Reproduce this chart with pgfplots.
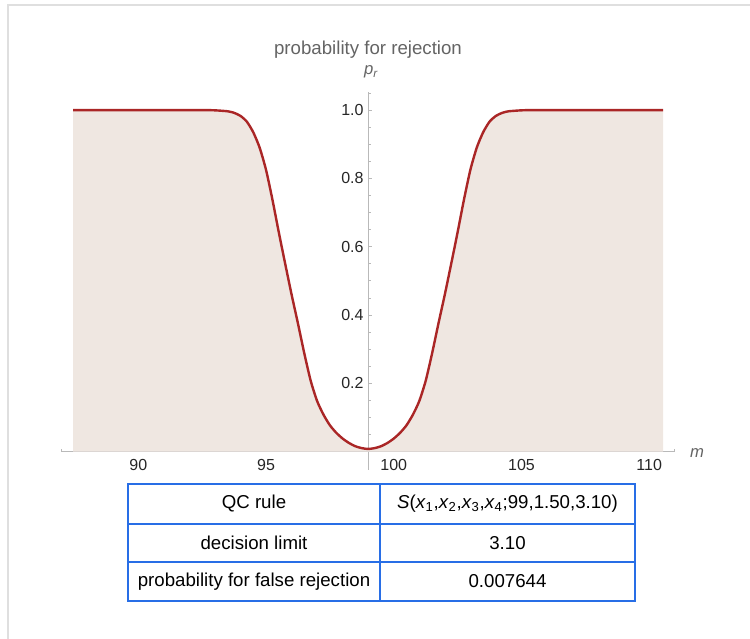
\documentclass[border=0pt]{standalone}
\usepackage{fontspec}
\setmainfont{Liberation Sans}
\usepackage{pgfplots}
\usepackage{pgfplotstable}
\pgfplotsset{compat=1.18}

\definecolor{curve}{RGB}{170,38,38}
\definecolor{under}{RGB}{239,231,225}
\definecolor{axgray}{RGB}{185,185,185}
\definecolor{tblue}{RGB}{40,110,230}
\definecolor{ttl}{RGB}{100,100,100}

% rejection probability p_r against the mean m
\pgfplotstableread{
m p
87.45 1.0
90.0 1.0
92.5 1.0
93.0 0.9993
93.5 0.9965
93.75 0.9920
94.0 0.9830
94.25 0.9660
94.5 0.9350
94.75 0.8900
95.0 0.8250
95.25 0.7380
95.5 0.6420
95.75 0.5500
96.0 0.4600
96.25 0.3750
96.5 0.2870
96.75 0.2070
97.0 0.1480
97.25 0.1080
97.5 0.0770
97.75 0.0550
98.0 0.0380
98.25 0.0250
98.5 0.0155
98.75 0.0100
99.0 0.0076
99.25 0.0100
99.5 0.0155
99.75 0.0250
100.0 0.0380
100.25 0.0550
100.5 0.0770
100.75 0.1080
101.0 0.1480
101.25 0.2070
101.5 0.2870
101.75 0.3750
102.0 0.4600
102.25 0.5500
102.5 0.6420
102.75 0.7380
103.0 0.8250
103.25 0.8900
103.5 0.9350
103.75 0.9660
104.0 0.9830
104.25 0.9920
104.5 0.9965
105.0 0.9993
105.5 1.0
108.0 1.0
110.55 1.0
}\prdata

\begin{document}
\begin{tikzpicture}[x=0.75pt,y=0.75pt]
\useasboundingbox (0,0) rectangle (750,639);
\draw[gray!25, line width=0.8pt] (8,0) -- (8,634) -- (750,634);

\begin{axis}[
  at={(46.275pt,126.75pt)}, anchor=south west,
  scale only axis, width=459.75pt, height=283.5pt,
  xmin=87, xmax=111, ymin=-0.054, ymax=1.053,
  axis x line=middle, axis y line=left,
  axis y line shift=-229.9pt,
  axis line style={axgray, line width=0.6pt, -},
  xtick={90,95,...,110}, minor xtick={87,...,111},
  ytick={0.2,0.4,0.6,0.8,1.0},
  minor ytick={0.05,0.1,...,1.05},
  tick align=inside,
  major tick length=3pt, minor tick length=2pt,
  tick style={axgray, line width=0.5pt},
  yticklabel style={/pgf/number format/fixed, /pgf/number format/fixed zerofill, /pgf/number format/precision=1},
  /pgf/number format/assume math mode=true,
  ticklabel style={font=\fontsize{12}{14}\selectfont, text=black!85},
  xticklabel style={yshift=-2pt},
  clip=false,
]
\addplot[fill=under, draw=none, smooth, tension=0.4] table[x=m, y=p] {\prdata} \closedcycle;
\addplot[curve, line width=1.8pt, line join=round, smooth, tension=0.4] table[x=m, y=p] {\prdata};
\end{axis}

\node[text=ttl, font=\fontsize{14}{16}\selectfont] at (368,589) {probability for rejection};
\node[text=ttl, font=\fontsize{12.5}{14}\selectfont\itshape] at (371,567) {p\textsubscript{r}};
\node[text=ttl, font=\fontsize{12.5}{14}\selectfont\itshape] at (697,186) {m};

% summary table
\begin{scope}[font=\fontsize{14}{16}\selectfont]
\draw[tblue, line width=1.1pt] (128,38) rectangle (635,155);
\draw[tblue, line width=1.1pt] (128,115) -- (635,115) (128,77) -- (635,77) (380,38) -- (380,155);
\node at (254,135) {QC rule};
\node at (507.5,135) {\textit{S}(\textit{x}\textsubscript{1},\textit{x}\textsubscript{2},\textit{x}\textsubscript{3},\textit{x}\textsubscript{4};99,1.50,3.10)};
\node at (254,96) {decision limit};
\node at (507.5,96) {3.10};
\node at (254,57.5) {probability for false rejection};
\node at (507.5,57.5) {0.007644};
\end{scope}
\end{tikzpicture}
\end{document}
